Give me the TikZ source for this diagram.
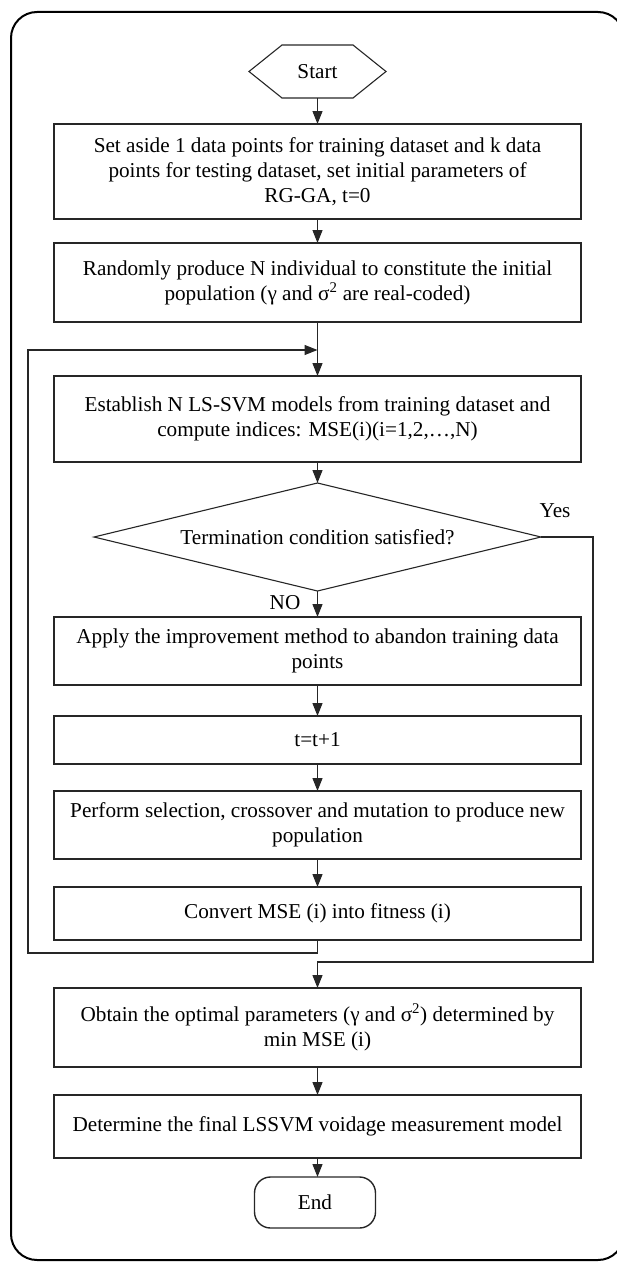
\documentclass[tikz,border=0pt]{standalone}
\usepackage{fontspec}
\setmainfont{Liberation Serif}
\usetikzlibrary{arrows.meta}
\begin{document}
\begin{tikzpicture}[x=1pt,y=-1pt,
  every node/.style={font=\fontsize{21.2}{25}\selectfont, inner sep=0pt, outer sep=0pt},
  procbox/.style={draw=black!85, line width=1.1pt, minimum width=527pt, align=center},
  freebox/.style={draw=none, align=center},
  conn/.style={draw=black!85, line width=1.1pt},
  arr/.style={conn, -{Triangle[length=13pt,width=10pt]}},
  frame/.style={draw=black, line width=2pt, rounded corners=26pt}
]
\useasboundingbox (0,0) rectangle (617,1263);
\draw[frame] (11,12) rectangle (624,1260);

% start hexagon
\node[freebox, minimum width=137pt, minimum height=53pt] (start) at (317.5,71.5) {Start};
\draw[conn] (start.west) -- ([xshift=33pt]start.north west) -- ([xshift=-33pt]start.north east)
  -- (start.east) -- ([xshift=-33pt]start.south east) -- ([xshift=33pt]start.south west) -- cycle;

\node[procbox, minimum height=95pt] (b1) at (317.5,171.5) {Set aside 1 data points for training dataset and k data\\ points for testing dataset, set initial parameters of\\ RG-GA, t=0};
\node[procbox, minimum height=79pt] (b2) at (317.5,282.5) {Randomly produce N individual to constitute the initial\\ population (γ and σ\textsuperscript{2} are real-coded)};
\node[procbox, minimum height=86pt] (b3) at (317.5,419) {Establish N LS-SVM models from training dataset and\\ compute indices: MSE(i)(i=1,2,…,N)};

% decision diamond
\node[freebox, minimum width=447pt, minimum height=108pt] (dec) at (317.5,537) {Termination condition satisfied?};
\draw[conn] (dec.north) -- (dec.east) -- (dec.south) -- (dec.west) -- cycle;

\node[procbox, minimum height=68pt] (b4) at (317.5,651) {Apply the improvement method to abandon training data\\ points};
\node[procbox, minimum height=48pt] (b5) at (317.5,740) {t=t+1};
\node[procbox, minimum height=68pt] (b6) at (317.5,825) {Perform selection, crossover and mutation to produce new\\ population};
\node[procbox, minimum height=53pt] (b7) at (317.5,913.5) {Convert MSE (i) into fitness (i)};
\node[procbox, minimum height=79pt] (b8) at (317.5,1027.5) {Obtain the optimal parameters (γ and σ\textsuperscript{2}) determined by\\ min MSE (i)};
\node[procbox, minimum height=63pt] (b9) at (317.5,1126.5) {Determine the final LSSVM voidage measurement model};
\node[draw=black!85, line width=1.4pt, rounded corners=16pt, minimum width=121pt, minimum height=51pt] (end) at (315,1202.5) {End};

% labels
\node (yes) at (555,511) {Yes};
\node (no) at (285,603) {NO};

% coordinates
\coordinate (join) at (317.5,350);
\coordinate (lb) at (317.5,953);
\coordinate (lc) at (28,953);
\coordinate (lt) at (28,350);
\coordinate (rc) at (593,962);
\coordinate (merge) at (317.5,962);

% connectors
\draw[arr] (start.south) -- (b1.north);
\draw[arr] (b1.south) -- (b2.north);
\draw[arr] (b2.south) -- (b3.north);
\draw[arr] (b3.south) -- (dec.north);
\draw[arr] (dec.south) -- (b4.north);
\draw[arr] (b4.south) -- (b5.north);
\draw[arr] (b5.south) -- (b6.north);
\draw[arr] (b6.south) -- (b7.north);
\draw[arr] (b7.south) -- (lb) -- (lc) -- (lt) -- (join);
\draw[arr] (dec.east) -| (rc) -- (merge) -- (b8.north);
\draw[arr] (b8.south) -- (b9.north);
\draw[arr] (b9.south) -- (end.north -| b9.south);
\end{tikzpicture}
\end{document}
